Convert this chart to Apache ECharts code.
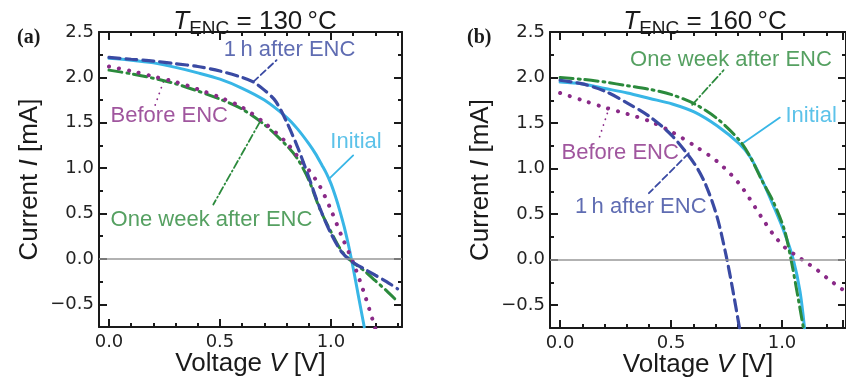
<!DOCTYPE html>
<html>
<head>
<meta charset="utf-8">
<script src="https://cdn.jsdelivr.net/npm/echarts@6/dist/echarts.min.js"></script>
<style>
  html, body { margin: 0; padding: 0; background: #fff; }
  #chart { width: 846px; height: 385px; }
</style>
</head>
<body>
<div id="chart"></div>
<script>
// tick steps (labels only on the major step)
const xMajorStep = 0.5;
const xMinorStep = 0.1;
const yMajorStep = 0.5;
const yMinorStep = 0.25;

// (a) T_ENC = 130 °C, [V, I]
const initialA = [[0, 2.21], [0.1, 2.19], [0.2, 2.16], [0.3, 2.11], [0.4, 2.05], [0.5, 1.98], [0.6, 1.88], [0.7, 1.75], [0.8, 1.56], [0.85, 1.43], [0.9, 1.27], [0.93, 1.16], [0.96, 1.03], [0.98, 0.94], [1.0, 0.83], [1.02, 0.69], [1.04, 0.53], [1.06, 0.35], [1.08, 0.14], [1.1, -0.1], [1.12, -0.36], [1.15, -0.75]];
const hourA = [[0, 2.22], [0.1, 2.2], [0.2, 2.18], [0.3, 2.15], [0.4, 2.12], [0.5, 2.07], [0.6, 2.0], [0.65, 1.95], [0.7, 1.86], [0.75, 1.74], [0.8, 1.51], [0.85, 1.23], [0.9, 0.9], [0.95, 0.56], [1.0, 0.28], [1.05, 0.07], [1.1, -0.04], [1.15, -0.11], [1.2, -0.18], [1.25, -0.25], [1.3, -0.33]];
const beforeA = [[0, 2.12], [0.1, 2.07], [0.2, 2.01], [0.3, 1.95], [0.4, 1.87], [0.5, 1.78], [0.6, 1.67], [0.7, 1.5], [0.8, 1.28], [0.85, 1.13], [0.9, 0.98], [0.95, 0.8], [1.0, 0.54], [1.05, 0.24], [1.1, -0.04], [1.15, -0.38], [1.2, -0.77]];
const weekA = [[0, 2.08], [0.1, 2.04], [0.2, 1.99], [0.3, 1.93], [0.4, 1.85], [0.5, 1.76], [0.6, 1.65], [0.7, 1.48], [0.8, 1.25], [0.85, 1.1], [0.9, 0.87], [0.95, 0.55], [1.0, 0.3], [1.05, 0.08], [1.1, -0.04], [1.15, -0.13], [1.2, -0.24], [1.25, -0.35], [1.3, -0.47]];

// (b) T_ENC = 160 °C
const initialB = [[0, 1.95], [0.1, 1.93], [0.2, 1.88], [0.3, 1.83], [0.4, 1.77], [0.5, 1.71], [0.6, 1.62], [0.7, 1.47], [0.8, 1.27], [0.85, 1.12], [0.9, 0.88], [0.95, 0.6], [1.0, 0.3], [1.04, 0.0], [1.07, -0.35], [1.09, -0.75]];
const hourB = [[0, 1.97], [0.1, 1.93], [0.2, 1.85], [0.3, 1.72], [0.4, 1.57], [0.5, 1.36], [0.6, 1.05], [0.65, 0.82], [0.7, 0.47], [0.74, 0.05], [0.77, -0.33], [0.8, -0.75]];
const beforeB = [[0, 1.83], [0.1, 1.75], [0.2, 1.67], [0.3, 1.6], [0.4, 1.52], [0.5, 1.4], [0.6, 1.25], [0.7, 1.08], [0.8, 0.83], [0.9, 0.46], [0.95, 0.28], [1.0, 0.14], [1.05, 0.05], [1.08, 0.0], [1.15, -0.12], [1.2, -0.22], [1.25, -0.31], [1.3, -0.4]];
const weekB = [[0, 2.0], [0.1, 1.98], [0.2, 1.95], [0.3, 1.91], [0.4, 1.87], [0.5, 1.81], [0.6, 1.71], [0.7, 1.55], [0.8, 1.31], [0.85, 1.12], [0.9, 0.87], [0.95, 0.64], [1.0, 0.33], [1.03, 0.0], [1.06, -0.4], [1.085, -0.75]];

// annotations: text anchor [V, I, text] and leader line [[V, I], [V, I]]
const notesA = {
  initial: [0.995, 1.29, 'Initial'], initialLine: [[0.99, 0.88], [1.1, 1.14]],
  hour: [0.515, 2.3, '1\u2009h after ENC'], hourLine: [[0.65, 1.95], [0.755, 2.19]],
  before: [0.005, 1.58, 'Before ENC'], beforeLine: [[0.245, 1.95], [0.203, 1.66]],
  week: [0.005, 0.43, 'One week after ENC'], weekLine: [[0.68, 1.51], [0.47, 0.6]]
};
const notesB = {
  initial: [1.003, 1.58, 'Initial'], initialLine: [[0.818, 1.285], [0.98, 1.56]],
  hour: [0.064, 0.58, '1\u2009h after ENC'], hourLine: [[0.574, 1.17], [0.396, 0.73]],
  before: [0.004, 1.17, 'Before ENC'], beforeLine: [[0.219, 1.67], [0.175, 1.34]],
  week: [0.31, 2.19, 'One week after ENC'], weekLine: [[0.589, 1.7], [0.729, 2.08]]
};

const XMIN = -0.045;
const YMIN = -0.75, YMAX = 2.5, YMAJOR_MIN = -0.5;
const SANS = 'Liberation Sans';
const INK = '#1a1a1a';
const styles = {
  initial: { color: '#38b6e6', width: 3, type: 'solid', text: '#33b3e4' },
  hour: { color: '#3a4aa3', width: 3.2, type: [11, 6], text: '#37479f' },
  before: { color: '#8a2a88', width: 4, type: [0.1, 10], text: '#882c86' },
  week: { color: '#2b8a3c', width: 3, type: [13, 5, 2, 5], text: '#2a8839' }
};
const fmt = step => v => {
  const k = v / step;
  if (Math.abs(k - Math.round(k)) > 1e-6) return '';
  return v.toFixed(1).replace('-', '\u2212');
};
const tick = len => ({ show: true, inside: true, length: len, lineStyle: { color: INK, width: 2 } });
const boxLine = { show: true, onZero: false, lineStyle: { color: INK, width: 2 } };
const noLine = { show: false, onZero: false };
const tickFont = { color: '#222', fontFamily: 'DejaVu Sans', fontSize: 18 };
const nameRich = {
  a: { fontFamily: SANS, fontSize: 26, color: INK },
  b: { fontFamily: SANS, fontSize: 26, color: INK, fontStyle: 'italic' }
};

// each panel: main grid (box + curves), a grid starting at V = 0 for x ticks,
// and a grid ending at I = -0.5 for the major y ticks, so ticks count from round values
function panelLayout(p, box, xMax) {
  const g0 = p * 3;
  const pxPerV = box.width / (xMax - XMIN);
  const x0 = box.left + (0 - XMIN) * pxPerV;
  const majH = box.height * (YMAX - YMAJOR_MIN) / (YMAX - YMIN);
  const grids = [
    { left: box.left, top: box.top, width: box.width, height: box.height },
    { left: x0, top: box.top, width: box.left + box.width - x0, height: box.height },
    { left: box.left, top: box.top, width: box.width, height: majH }
  ];
  const xb = { type: 'value', splitLine: { show: false } };
  const xAxis = [
    Object.assign({}, xb, { gridIndex: g0, min: XMIN, max: xMax, position: 'bottom', axisLine: boxLine, axisTick: { show: false }, axisLabel: { show: false },
      name: '{a|Voltage }{b|V}{a| [V]}', nameLocation: 'middle', nameGap: 24, nameTextStyle: { rich: nameRich } }),
    Object.assign({}, xb, { gridIndex: g0, min: XMIN, max: xMax, position: 'top', axisLine: boxLine, axisTick: { show: false }, axisLabel: { show: false } }),
    Object.assign({}, xb, { gridIndex: g0 + 1, min: 0, max: xMax, interval: xMajorStep, position: 'bottom', axisLine: noLine, axisTick: tick(8),
      axisLabel: Object.assign({ formatter: fmt(xMajorStep), margin: 6 }, tickFont) }),
    Object.assign({}, xb, { gridIndex: g0 + 1, min: 0, max: xMax, interval: xMinorStep, position: 'bottom', axisLine: noLine, axisTick: tick(4), axisLabel: { show: false } }),
    Object.assign({}, xb, { gridIndex: g0 + 1, min: 0, max: xMax, interval: xMajorStep, position: 'top', axisLine: noLine, axisTick: tick(8), axisLabel: { show: false } }),
    Object.assign({}, xb, { gridIndex: g0 + 1, min: 0, max: xMax, interval: xMinorStep, position: 'top', axisLine: noLine, axisTick: tick(4), axisLabel: { show: false } }),
    Object.assign({}, xb, { gridIndex: g0 + 2, min: XMIN, max: xMax, show: false })
  ];
  const yb = { type: 'value', splitLine: { show: false } };
  const yAxis = [
    Object.assign({}, yb, { gridIndex: g0, min: YMIN, max: YMAX, interval: yMinorStep, position: 'left', axisLine: boxLine, axisTick: tick(4), axisLabel: { show: false },
      name: '{a|Current }{b|I}{a| [mA]}', nameLocation: 'middle', nameGap: 56, nameTextStyle: { rich: nameRich } }),
    Object.assign({}, yb, { gridIndex: g0, min: YMIN, max: YMAX, interval: yMinorStep, position: 'right', axisLine: boxLine, axisTick: tick(4), axisLabel: { show: false } }),
    Object.assign({}, yb, { gridIndex: g0 + 1, min: YMIN, max: YMAX, show: false }),
    Object.assign({}, yb, { gridIndex: g0 + 2, min: YMAJOR_MIN, max: YMAX, interval: yMajorStep, position: 'left', axisLine: noLine, axisTick: tick(8),
      axisLabel: Object.assign({ formatter: fmt(yMajorStep), margin: 5 }, tickFont) }),
    Object.assign({}, yb, { gridIndex: g0 + 2, min: YMAJOR_MIN, max: YMAX, interval: yMajorStep, position: 'right', axisLine: noLine, axisTick: tick(8), axisLabel: { show: false } })
  ];
  return { grids, xAxis, yAxis };
}

function curve(ax, key, data) {
  const s = styles[key];
  return {
    type: 'line', xAxisIndex: ax.x, yAxisIndex: ax.y, data: data,
    showSymbol: false, smooth: 0.3, z: 3,
    lineStyle: { color: s.color, width: s.width, type: s.type, cap: 'round' }
  };
}

function note(ax, key, pos, leader) {
  const s = styles[key];
  return [
    {
      type: 'line', xAxisIndex: ax.x, yAxisIndex: ax.y, data: leader, showSymbol: false, z: 2,
      lineStyle: { color: s.color, width: 1.8, type: Array.isArray(s.type) ? s.type.map(d => Math.max(d * 0.6, 0.1)) : s.type, cap: 'round' }
    },
    {
      type: 'scatter', xAxisIndex: ax.x, yAxisIndex: ax.y, data: [[pos[0], pos[1]]], symbolSize: 1,
      itemStyle: { color: 'rgba(0,0,0,0)' }, z: 4,
      label: { show: true, position: 'right', distance: 0, formatter: pos[2], color: s.text, fontFamily: SANS, fontSize: 22 }
    }
  ];
}

function panelSeries(ax, sets, notes) {
  const zero = {
    type: 'line', xAxisIndex: ax.x, yAxisIndex: ax.y, data: [], z: 1,
    markLine: { silent: true, symbol: 'none', label: { show: false }, animation: false,
      lineStyle: { color: '#999', width: 1.5, type: 'solid' }, data: [{ yAxis: 0 }] }
  };
  const out = [zero];
  ['initial', 'week', 'before', 'hour'].forEach(k => out.push(curve(ax, k, sets[k])));
  ['initial', 'week', 'before', 'hour'].forEach(k => out.push(...note(ax, k, notes[k], notes[k + 'Line'])));
  return out;
}

function heading(text, x) {
  return {
    text: '{t|T}{s|ENC}{n| = ' + text + '}', left: x, top: 1, textAlign: 'center',
    textStyle: { fontWeight: 'normal', rich: {
      t: { fontFamily: SANS, fontSize: 26, fontStyle: 'italic', fontWeight: 'normal', color: INK },
      s: { fontFamily: SANS, fontSize: 19, fontWeight: 'normal', color: INK, padding: [13, 0, 0, 0] },
      n: { fontFamily: SANS, fontSize: 26, fontWeight: 'normal', color: INK } } }
  };
}

const pa = panelLayout(0, { left: 99, top: 32, width: 303, height: 295 }, 1.32);
const pb = panelLayout(1, { left: 550, top: 32, width: 298, height: 296 }, 1.275);
const axA = { x: 0, y: 0 };
const axB = { x: pa.xAxis.length, y: pa.yAxis.length };

const chart = echarts.init(document.getElementById('chart'));
chart.setOption({
  animation: false,
  backgroundColor: '#fff',
  title: [
    heading('130\u2009°C', 250),
    heading('160\u2009°C', 700),
    { text: '(a)', left: 12, top: 23, textStyle: { fontFamily: 'Liberation Serif', fontWeight: 'bold', fontSize: 20, color: INK } },
    { text: '(b)', left: 462, top: 23, textStyle: { fontFamily: 'Liberation Serif', fontWeight: 'bold', fontSize: 20, color: INK } }
  ],
  grid: [...pa.grids, ...pb.grids],
  xAxis: [...pa.xAxis, ...pb.xAxis],
  yAxis: [...pa.yAxis, ...pb.yAxis],
  series: [
    ...panelSeries(axA, { initial: initialA, hour: hourA, before: beforeA, week: weekA }, notesA),
    ...panelSeries(axB, { initial: initialB, hour: hourB, before: beforeB, week: weekB }, notesB)
  ]
});
</script>
</body>
</html>
